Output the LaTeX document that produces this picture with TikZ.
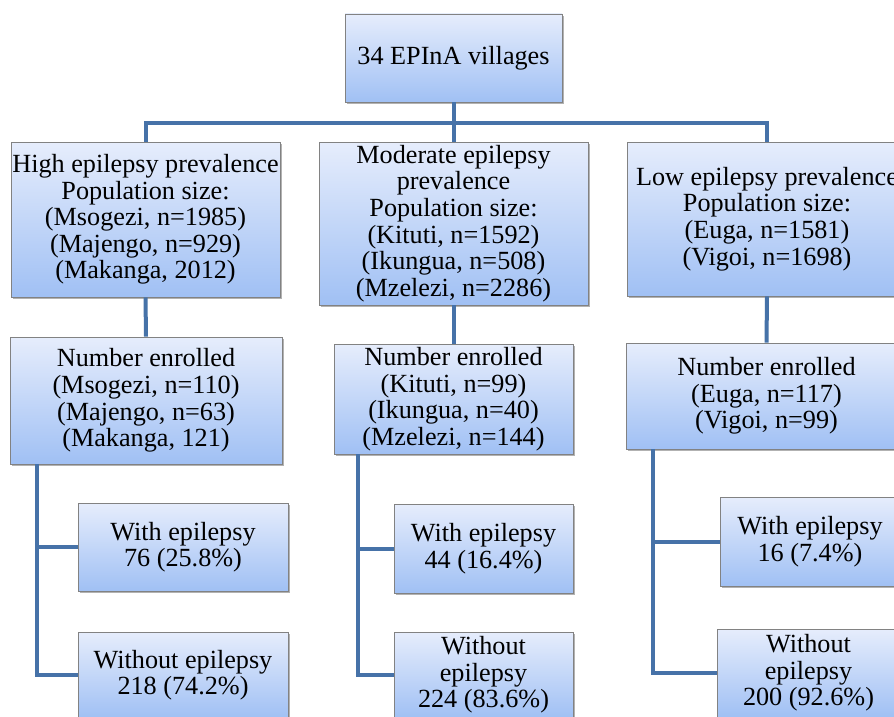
\documentclass[tikz,border=0pt]{standalone}
\usepackage{fontspec}
\setmainfont{Liberation Serif}
\newfontfamily\boxfont{Liberation Serif}
\usetikzlibrary{shadows}
\definecolor{conncol}{RGB}{70,114,168}
\definecolor{boxtop}{RGB}{230,237,252}
\definecolor{boxbot}{RGB}{160,192,244}
\definecolor{boxline}{RGB}{130,130,130}
\begin{document}
\begin{tikzpicture}[x=1pt,y=1pt,
  box/.style={draw=boxline, line width=0.8pt, top color=boxtop, bottom color=boxbot,
    align=center, inner sep=0pt, font=\boxfont\fontsize{26.2}{26.6}\selectfont,
    drop shadow={shadow xshift=1.5pt, shadow yshift=-2pt, opacity=0.3, fill=black}},
  conn/.style={draw=conncol, line width=4pt, line join=miter}]
\path[use as bounding box, clip] (0,0) rectangle (894,-717);
\fill[white] (0,0) rectangle (894,-717);

% top
\node[box, minimum width=217, minimum height=88] (top) at (453.5,-58) {34 EPInA villages};

% level 2
\node[box, minimum width=269, minimum height=155] (high) at (145.5,-219.5)
  {High epilepsy prevalence\\Population size:\\(Msogezi, n=1985)\\(Majengo, n=929)\\(Makanga, 2012)};
\node[box, minimum width=269, minimum height=163] (mod) at (453.5,-223.5)
  {Moderate epilepsy\\prevalence\\Population size:\\(Kituti, n=1592)\\(Ikungua, n=508)\\(Mzelezi, n=2286)};
\node[box, minimum width=280, minimum height=154] (low) at (767,-219)
  {Low epilepsy prevalence\\Population size:\\(Euga, n=1581)\\(Vigoi, n=1698)};

% level 3
\node[box, minimum width=272, minimum height=127] (henr) at (146,-400.5)
  {Number enrolled\\(Msogezi, n=110)\\(Majengo, n=63)\\(Makanga, 121)};
\node[box, minimum width=239, minimum height=110] (menr) at (453.5,-399)
  {Number enrolled\\(Kituti, n=99)\\(Ikungua, n=40)\\(Mzelezi, n=144)};
\node[box, minimum width=281, minimum height=106] (lenr) at (766.5,-396)
  {Number enrolled\\(Euga, n=117)\\(Vigoi, n=99)};

% level 4
\node[box, minimum width=210, minimum height=88] (hw) at (183,-547)
  {With epilepsy\\76 (25.8\%)};
\node[box, minimum width=210, minimum height=86] (hwo) at (183,-675)
  {Without epilepsy\\218 (74.2\%)};
\node[box, minimum width=179, minimum height=89] (mw) at (483.5,-548.5)
  {With epilepsy\\44 (16.4\%)};
\node[box, minimum width=179, minimum height=86] (mwo) at (483.5,-675)
  {Without\\epilepsy\\224 (83.6\%)};
\node[box, minimum width=180, minimum height=89] (lw) at (810,-541.5)
  {With epilepsy\\16 (7.4\%)};
\node[box, minimum width=183, minimum height=88] (lwo) at (808.5,-673)
  {Without\\epilepsy\\200 (92.6\%)};

% connectors
\draw[conn] (top.south) -- (mod.north);
\draw[conn] (high.north) -- ++(0,19) -| (low.north);
\draw[conn] (high.south) -- (henr.north);
\draw[conn] (mod.south) -- (menr.north);
\draw[conn] (low.south) -- (lenr.north);

\coordinate (hv) at ([xshift=27pt]henr.south west);
\coordinate (mv) at ([xshift=24pt]menr.south west);
\coordinate (lv) at ([xshift=27pt]lenr.south west);

\draw[conn] (hv) |- (hwo.west);
\draw[conn] (hv |- hw.west) -- (hw.west);
\draw[conn] (mv) |- (mwo.west);
\draw[conn] (mv |- mw.west) -- (mw.west);
\draw[conn] (lv) |- (lwo.west);
\draw[conn] (lv |- lw.west) -- (lw.west);
\end{tikzpicture}
\end{document}
